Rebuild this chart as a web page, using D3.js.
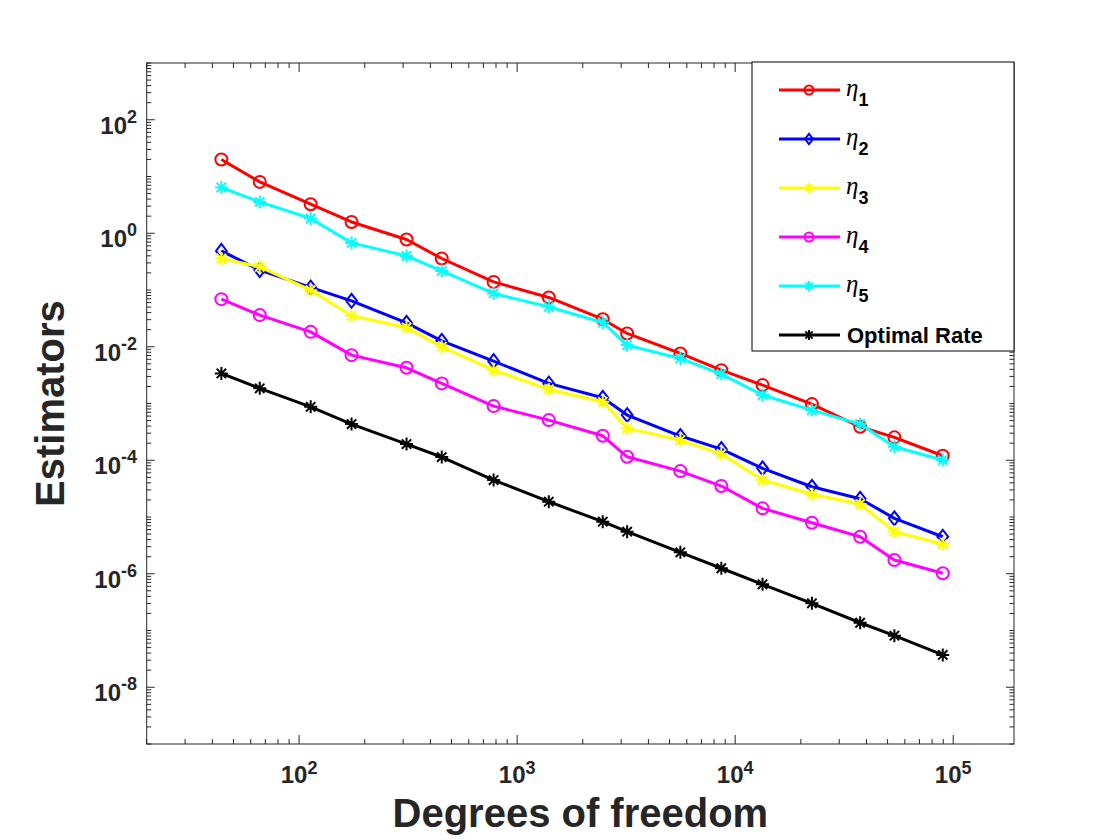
<!DOCTYPE html>
<html>
<head>
<meta charset="utf-8">
<script src="https://cdn.jsdelivr.net/npm/d3@7"></script>
<style>
  html, body { margin: 0; padding: 0; background: #fff; }
  svg { display: block; }
</style>
</head>
<body>
<div id="chart"></div>
<script>
// degrees of freedom (x) and estimator values
const dofs = [44, 66, 113, 174, 311, 451, 780, 1397, 2470, 3195, 5605, 8640, 13350, 22480, 37420, 53720, 89540];
const eta1 = [19.9, 8.03, 3.25, 1.58, 0.776, 0.359, 0.139, 0.0739, 0.0306, 0.01717, 7.62e-3, 3.87e-3, 2.11e-3, 9.75e-4, 3.89e-4, 2.53e-4, 1.20e-4];
const eta2 = [0.489, 0.224, 0.111, 0.0644, 0.0264, 0.0127, 5.58e-3, 2.26e-3, 1.26e-3, 6.25e-4, 2.67e-4, 1.57e-4, 7.20e-5, 3.41e-5, 2.10e-5, 9.46e-6, 4.49e-6];
const eta3 = [0.359, 0.256, 0.0993, 0.0351, 0.0219, 9.97e-3, 3.87e-3, 1.77e-3, 1.07e-3, 3.65e-4, 2.27e-4, 1.29e-4, 4.48e-5, 2.52e-5, 1.69e-5, 5.50e-6, 3.34e-6];
const eta4 = [0.0690, 0.0361, 0.0183, 7.11e-3, 4.26e-3, 2.26e-3, 9.0e-4, 5.1e-4, 2.70e-4, 1.15e-4, 6.44e-5, 3.51e-5, 1.42e-5, 7.93e-6, 4.49e-6, 1.75e-6, 1.02e-6];
const eta5 = [6.40, 3.57, 1.82, 0.676, 0.399, 0.217, 0.0869, 0.0505, 0.0268, 0.0107, 6.22e-3, 3.30e-3, 1.41e-3, 7.66e-4, 4.34e-4, 1.73e-4, 1.01e-4];
const optimalRate = [3.39e-3, 1.85e-3, 8.75e-4, 4.34e-4, 1.93e-4, 1.14e-4, 4.48e-5, 1.86e-5, 8.26e-6, 5.50e-6, 2.39e-6, 1.25e-6, 6.52e-7, 3.01e-7, 1.37e-7, 8.1e-8, 3.71e-8];

const xLabelExps = [2, 3, 4, 5];
const yLabelExps = [2, 0, -2, -4, -6, -8];

const series = [
  {name: '1', values: eta1, color: '#ff0000', marker: 'circle'},
  {name: '2', values: eta2, color: '#0000ff', marker: 'diamond'},
  {name: '3', values: eta3, color: '#ffff00', marker: 'star'},
  {name: '4', values: eta4, color: '#ff00ff', marker: 'circle'},
  {name: '5', values: eta5, color: '#00ffff', marker: 'star'},
  {name: 'Optimal Rate', values: optimalRate, color: '#000000', marker: 'star'}
];

const W = 1120, H = 840;
const pL = 146.7, pR = 1014, pT = 63, pB = 744;
const axisColor = '#262626';
const sans = '"Liberation Sans", Arial, Helvetica, sans-serif';

const svg = d3.select('#chart').append('svg')
  .attr('width', W).attr('height', H);

const x = d3.scaleLog().domain([20, 1.9e5]).range([pL, pR]);
const y = d3.scaleLog().domain([1e-9, 1e3]).range([pB, pT]);

// ticks: major at every decade, minor at 2..9
function logTicks(lo, hi) {
  let major = [], minor = [];
  for (let e = Math.floor(Math.log10(lo)); e <= Math.ceil(Math.log10(hi)); e++) {
    for (let m = 1; m < 10; m++) {
      let v = m * Math.pow(10, e);
      if (v < lo * 0.999 || v > hi * 1.001) continue;
      (m === 1 ? major : minor).push(v);
    }
  }
  return {major, minor};
}

const axes = svg.append('g');
const xt = logTicks(20, 1.9e5);
const yt = logTicks(1e-9, 1e3);

// x ticks on bottom and top
xt.major.concat(xt.minor).forEach(v => {
  let len = xt.major.includes(v) ? 9 : 5;
  axes.append('line').attr('x1', x(v)).attr('x2', x(v)).attr('y1', pB).attr('y2', pB - len)
    .attr('stroke', axisColor).attr('stroke-width', 1);
  axes.append('line').attr('x1', x(v)).attr('x2', x(v)).attr('y1', pT).attr('y2', pT + len)
    .attr('stroke', axisColor).attr('stroke-width', 1);
});
// y ticks on left and right (labelled decades are the long ones)
yt.major.concat(yt.minor).forEach(v => {
  let e = Math.round(Math.log10(v));
  let len = (yt.major.includes(v) && e % 2 === 0) ? 8 : 4.5;
  axes.append('line').attr('y1', y(v)).attr('y2', y(v)).attr('x1', pL).attr('x2', pL + len)
    .attr('stroke', axisColor).attr('stroke-width', 1);
  axes.append('line').attr('y1', y(v)).attr('y2', y(v)).attr('x1', pR).attr('x2', pR - len)
    .attr('stroke', axisColor).attr('stroke-width', 1);
});

axes.append('rect')
  .attr('x', pL).attr('y', pT).attr('width', pR - pL).attr('height', pB - pT)
  .attr('fill', 'none').attr('stroke', axisColor).attr('stroke-width', 1);

// tick labels as 10^k
xLabelExps.forEach(e => {
  let t = axes.append('text')
    .attr('x', x(Math.pow(10, e))).attr('y', 783)
    .attr('text-anchor', 'middle')
    .attr('font-family', sans).attr('font-weight', 'bold').attr('fill', axisColor);
  t.append('tspan').attr('font-size', 24).text('10');
  t.append('tspan').attr('font-size', 18).attr('dy', -9).text(e);
});
yLabelExps.forEach(e => {
  let t = axes.append('text')
    .attr('x', 137).attr('y', y(Math.pow(10, e)) + 14)
    .attr('text-anchor', 'end')
    .attr('font-family', sans).attr('font-weight', 'bold').attr('fill', axisColor);
  t.append('tspan').attr('font-size', 24).text('10');
  t.append('tspan').attr('font-size', 18).attr('dy', -11).text(e);
});

// axis titles
svg.append('text')
  .attr('x', (pL + pR) / 2).attr('y', 827)
  .attr('text-anchor', 'middle')
  .attr('font-family', sans).attr('font-weight', 'bold').attr('font-size', 40)
  .attr('fill', axisColor)
  .text('Degrees of freedom');
svg.append('text')
  .attr('transform', 'translate(64,' + ((pT + pB) / 2) + ') rotate(-90)')
  .attr('text-anchor', 'middle')
  .attr('font-family', sans).attr('font-weight', 'bold').attr('font-size', 40)
  .attr('fill', axisColor)
  .text('Estimators');

// markers
function drawMarker(g, kind, cx, cy, color, s) {
  if (kind === 'circle') {
    g.append('circle').attr('cx', cx).attr('cy', cy).attr('r', s)
      .attr('fill', 'none').attr('stroke', color).attr('stroke-width', 2);
  } else if (kind === 'diamond') {
    let w = s * 0.9, h = s * 1.15;
    g.append('path')
      .attr('d', `M${cx},${cy - h}L${cx + w},${cy}L${cx},${cy + h}L${cx - w},${cy}Z`)
      .attr('fill', 'none').attr('stroke', color).attr('stroke-width', 2);
  } else {
    let d = s * 0.72;
    g.append('path')
      .attr('d', `M${cx - s},${cy}L${cx + s},${cy}M${cx},${cy - s}L${cx},${cy + s}` +
                 `M${cx - d},${cy - d}L${cx + d},${cy + d}M${cx - d},${cy + d}L${cx + d},${cy - d}`)
      .attr('fill', 'none').attr('stroke', color).attr('stroke-width', 2);
  }
}

const line = d3.line().x(d => x(d[0])).y(d => y(d[1]));
const plot = svg.append('g');
series.forEach(s => {
  let pts = dofs.map((d, i) => [d, s.values[i]]);
  let g = plot.append('g');
  g.append('path').datum(pts).attr('d', line)
    .attr('fill', 'none').attr('stroke', s.color).attr('stroke-width', 3)
    .attr('stroke-linejoin', 'round');
  pts.forEach(p => drawMarker(g, s.marker, x(p[0]), y(p[1]), s.color, s.marker === 'star' ? 6.5 : 6));
});

// legend
const lg = svg.append('g');
lg.append('rect').attr('x', 752).attr('y', 62).attr('width', 262).attr('height', 289)
  .attr('fill', '#fff').attr('stroke', '#000').attr('stroke-width', 1);
series.forEach((s, i) => {
  let ly = 90 + i * 49;
  lg.append('line').attr('x1', 779).attr('x2', 840).attr('y1', ly).attr('y2', ly)
    .attr('stroke', s.color).attr('stroke-width', 3);
  drawMarker(lg, s.marker, 809, ly, s.color, s.marker === 'star' ? 5 : 4.5);
  if (s.name === 'Optimal Rate') {
    lg.append('text').attr('x', 847).attr('y', ly + 8)
      .attr('font-family', sans).attr('font-weight', 'bold').attr('font-size', 22)
      .attr('fill', '#000').text(s.name);
  } else {
    let t = lg.append('text').attr('x', 846).attr('y', ly + 6).attr('fill', '#000');
    t.append('tspan').attr('font-family', '"Liberation Serif", "Times New Roman", serif')
      .attr('font-style', 'italic').attr('font-size', 25).text('η');
    t.append('tspan').attr('font-family', sans).attr('font-weight', 'bold')
      .attr('font-size', 18).attr('dy', 10).text(s.name);
  }
});
</script>
</body>
</html>
